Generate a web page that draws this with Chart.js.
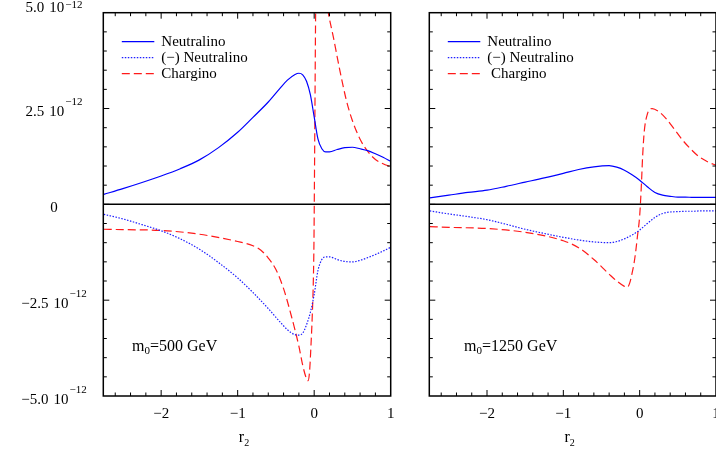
<!DOCTYPE html>
<html>
<head>
<meta charset="utf-8">
<title>r2 dependence</title>
<script src="https://cdn.jsdelivr.net/npm/chart.js@4.4.1/dist/chart.umd.min.js"></script>
<style>
    html, body { margin: 0; padding: 0; background: #fff; overflow: hidden; }
    body { width: 716px; height: 455px; position: relative; }
    canvas { position: absolute; top: 0; }
    #leftChart { left: 0; width: 410px; height: 455px; }
    #rightChart { left: 420px; width: 310px; height: 455px; }
</style>
</head>
<body>
<canvas id="leftChart" width="410" height="455"></canvas>
<canvas id="rightChart" width="310" height="455"></canvas>
<script>
/* ========================================
   r2 dependence, m0 = 500 / 1250 GeV
   values in units of 10^-12
   ======================================== */

// ---------- axes ----------
const xTicks = [-2, -1, 0, 1];
const yTicks = [5, 2.5, 0, -2.5, -5];
const yTickLabels = ['5.0', '2.5', '0', '\u22122.5', '\u22125.0'];
const yTickExponent = '\u221212';
const seriesLabels = ['Neutralino', '(\u2212) Neutralino', 'Chargino'];

// ---------- left panel, m0 = 500 GeV ----------
const leftR2 = [-2.75, -2.5, -2.25, -2.0, -1.75, -1.5, -1.25, -1.0, -0.8, -0.6,
    -0.45, -0.35, -0.25, -0.2, -0.15, -0.1, -0.05, 0.0, 0.05, 0.1,
    0.15, 0.2, 0.3, 0.4, 0.5, 0.6, 0.7, 0.8, 0.9, 1.0];
const leftNeutralino = [0.26, 0.41, 0.57, 0.74, 0.93, 1.16, 1.48, 1.88, 2.27, 2.67,
    3.02, 3.24, 3.39, 3.42, 3.38, 3.21, 2.86, 2.28, 1.70, 1.45,
    1.37, 1.37, 1.43, 1.48, 1.49, 1.45, 1.40, 1.32, 1.23, 1.12];
const leftNegNeutralino = [-0.26, -0.38, -0.53, -0.69, -0.90, -1.17, -1.52, -1.92, -2.30, -2.72,
    -3.06, -3.27, -3.40, -3.41, -3.36, -3.14, -2.82, -2.35, -1.72, -1.44,
    -1.37, -1.37, -1.44, -1.49, -1.50, -1.46, -1.39, -1.31, -1.22, -1.12];
const leftCharginoR2 = [-2.75, -2.5, -2.0, -1.5, -1.0, -0.8, -0.7, -0.6, -0.5, -0.4,
    -0.3, -0.2, -0.15, -0.1, -0.08, -0.06, -0.04, -0.025, -0.01, -0.003,
    0.003, 0.01, 0.02, 0.04, 0.07, 0.1, 0.14, 0.18, 0.25, 0.33,
    0.42, 0.5, 0.6, 0.7, 0.8, 0.9, 1.0];
const leftChargino = [-0.65, -0.66, -0.68, -0.78, -0.97, -1.08, -1.19, -1.40, -1.70, -2.20,
    -2.90, -3.70, -4.20, -4.55, -4.60, -4.35, -3.60, -2.90, -1.90, -1.00,
    0.50, 2.50, 5.20, 6.50, 6.80, 6.40, 5.60, 5.05, 4.37, 3.55,
    2.72, 2.18, 1.70, 1.38, 1.17, 1.06, 0.98];

// ---------- right panel, m0 = 1250 GeV ----------
const rightR2 = [-2.75, -2.5, -2.25, -2.0, -1.75, -1.5, -1.25, -1.0, -0.8, -0.6,
    -0.4, -0.3, -0.2, -0.1, 0.0, 0.1, 0.2, 0.3, 0.4, 0.5,
    0.6, 0.7, 0.8, 0.9, 1.0];
const rightNeutralino = [0.17, 0.24, 0.31, 0.37, 0.47, 0.58, 0.69, 0.81, 0.91, 0.98,
    1.01, 0.97, 0.89, 0.77, 0.63, 0.46, 0.31, 0.24, 0.21, 0.19,
    0.19, 0.18, 0.18, 0.18, 0.18];
const rightNegNeutralino = [-0.17, -0.25, -0.32, -0.40, -0.52, -0.65, -0.76, -0.86, -0.93, -0.98,
    -1.00, -0.97, -0.90, -0.80, -0.67, -0.50, -0.34, -0.24, -0.20, -0.19,
    -0.18, -0.18, -0.17, -0.17, -0.17];
const rightCharginoR2 = [-2.75, -2.5, -2.0, -1.5, -1.0, -0.8, -0.6, -0.4, -0.3, -0.2,
    -0.16, -0.13, -0.1, -0.074, -0.05, -0.03, 0.0, 0.02, 0.04, 0.06,
    0.1, 0.165, 0.25, 0.34, 0.45, 0.56, 0.67, 0.78, 0.9, 1.0];
const rightChargino = [-0.58, -0.60, -0.63, -0.73, -0.95, -1.13, -1.44, -1.82, -2.00, -2.14,
    -2.16, -2.05, -1.80, -1.54, -1.20, -0.85, -0.30, 0.40, 1.30, 1.90,
    2.35, 2.50, 2.42, 2.25, 1.97, 1.68, 1.44, 1.24, 1.10, 1.02];

// ---------- helpers ----------
const SERIF = '"Liberation Serif", "DejaVu Serif", "Times New Roman", serif';
const font = size => size + 'px ' + SERIF;

function toPoints(xs, ys) {
    return xs.map((x, i) => ({ x: x, y: ys[i] }));
}

// text runs with sub/superscripts, left or centre aligned
function drawRuns(ctx, runs, x, y, align) {
    let total = 0;
    runs.forEach(r => {
        ctx.font = font(r.size);
        r.w = ctx.measureText(r.text).width + (r.gap || 0);
        total += r.w;
    });
    let cx = align === 'center' ? x - total / 2 : x;
    runs.forEach(r => {
        ctx.font = font(r.size);
        ctx.fillText(r.text, cx + (r.gap || 0), y + (r.dy || 0));
        cx += r.w;
    });
}

function strokeLine(ctx, x1, y1, x2, y2) {
    ctx.beginPath();
    ctx.moveTo(x1, y1);
    ctx.lineTo(x2, y2);
    ctx.stroke();
}

// ---------- frame, ticks, labels, legend ----------
const paperFrame = {
    id: 'paperFrame',
    afterDatasetsDraw(chart, args, opts) {
        const { ctx, chartArea: a } = chart;
        const xs = chart.scales.x, ys = chart.scales.y;
        ctx.save();
        ctx.strokeStyle = '#000';
        ctx.fillStyle = '#000';
        ctx.textAlign = 'left';
        ctx.textBaseline = 'alphabetic';

        // zero line + box
        ctx.lineWidth = 1.5;
        const y0 = ys.getPixelForValue(0);
        strokeLine(ctx, a.left, y0, a.right, y0);
        ctx.strokeRect(a.left, a.top, a.right - a.left, a.bottom - a.top);

        // inward ticks on all four sides
        ctx.lineWidth = 1;
        for (let k = -13; k <= 5; k++) {
            const v = k * 0.2;
            const px = xs.getPixelForValue(v);
            if (px <= a.left + 1 || px >= a.right - 1) continue;
            const len = Math.abs(v - Math.round(v)) < 1e-6 ? 6 : 3.5;
            strokeLine(ctx, px, a.bottom, px, a.bottom - len);
            strokeLine(ctx, px, a.top, px, a.top + len);
        }
        for (let k = -9; k <= 9; k++) {
            const v = k * 0.5;
            const py = ys.getPixelForValue(v);
            const len = k % 5 === 0 ? 6 : 3.5;
            strokeLine(ctx, a.left, py, a.left + len, py);
            strokeLine(ctx, a.right, py, a.right - len, py);
        }

        // x tick labels + title
        xTicks.forEach(v => {
            const txt = v < 0 ? '\u2212' + Math.abs(v) : String(v);
            drawRuns(ctx, [{ text: txt, size: 15 }], xs.getPixelForValue(v), a.bottom + 22.3, 'center');
        });
        drawRuns(ctx, [
            { text: 'r', size: 16 },
            { text: '2', size: 10, dy: 4 }
        ], (a.left + a.right) / 2 - 3, a.bottom + 45.7, 'center');

        // y tick labels (left panel only)
        if (opts.yLabels) {
            yTicks.forEach((v, i) => {
                const py = ys.getPixelForValue(v);
                const base = i === 0 ? py - 1 : py + 7.5;
                const runs = [{ text: yTickLabels[i], size: 15 }];
                if (v !== 0) {
                    runs.push({ text: '10', size: 15, gap: 5 });
                    runs.push({ text: yTickExponent, size: 11, gap: 1, dy: -Math.min(11, base - 8) });
                }
                drawRuns(ctx, runs, 54, base, 'center');
            });
        }

        // legend
        chart.data.datasets.forEach((ds, i) => {
            const ly = a.top + 29 + i * 16;
            ctx.save();
            ctx.strokeStyle = ds.borderColor;
            ctx.lineWidth = ds.borderWidth;
            ctx.setLineDash(ds.borderDash || []);
            strokeLine(ctx, a.left + 18.5, ly, a.left + 51, ly);
            ctx.restore();
            drawRuns(ctx, [{ text: ds.label, size: 15 }], a.left + 58, ly + 4.5, 'left');
        });

        // m0 note
        drawRuns(ctx, [
            { text: 'm', size: 16 },
            { text: '0', size: 11, dy: 3 },
            { text: '=' + opts.mass + ' GeV', size: 16 }
        ], xs.getPixelForValue(opts.noteX), ys.getPixelForValue(opts.noteY), 'left');

        ctx.restore();
    }
};

function makeDatasets(r2, neu, negNeu, chR2, charg, labels) {
    const common = {
        pointRadius: 0,
        fill: false,
        borderWidth: 1.2,
        cubicInterpolationMode: 'monotone',
    };
    return [
        { ...common, label: labels[0], data: toPoints(r2, neu), borderColor: '#0000ff', borderDash: [] },
        { ...common, label: labels[1], data: toPoints(r2, negNeu), borderColor: '#1f1fff', borderDash: [1.5, 1.5] },
        { ...common, label: labels[2], data: toPoints(chR2, charg), borderColor: '#ff1a1a', borderDash: [8, 4] },
    ];
}

function initPanel(id, datasets, padding, frameOpts) {
    const ctx = document.getElementById(id).getContext('2d');
    return new Chart(ctx, {
        type: 'line',
        data: { datasets: datasets },
        options: {
            responsive: false,
            animation: false,
            devicePixelRatio: 1,
            layout: { padding: padding },
            scales: {
                x: { type: 'linear', min: -2.756, max: 1, display: false },
                y: { type: 'linear', min: -5, max: 5, display: false }
            },
            plugins: {
                legend: { display: false },
                tooltip: { enabled: false },
                paperFrame: frameOpts
            }
        },
        plugins: [paperFrame]
    });
}

// ---------- init ----------
document.addEventListener('DOMContentLoaded', () => {
    initPanel('leftChart',
        makeDatasets(leftR2, leftNeutralino, leftNegNeutralino, leftCharginoR2, leftChargino, seriesLabels),
        { left: 103.3, right: 19.3, top: 12.7, bottom: 59 },
        { yLabels: true, mass: '500', noteX: -2.38, noteY: -3.82 });

    initPanel('rightChart',
        makeDatasets(rightR2, rightNeutralino, rightNegNeutralino, rightCharginoR2, rightChargino,
            [seriesLabels[0], seriesLabels[1], ' ' + seriesLabels[2]]),
        { left: 9.3, right: 14, top: 12.7, bottom: 59 },
        { yLabels: false, mass: '1250', noteX: -2.30, noteY: -3.82 });
});
</script>
</body>
</html>
